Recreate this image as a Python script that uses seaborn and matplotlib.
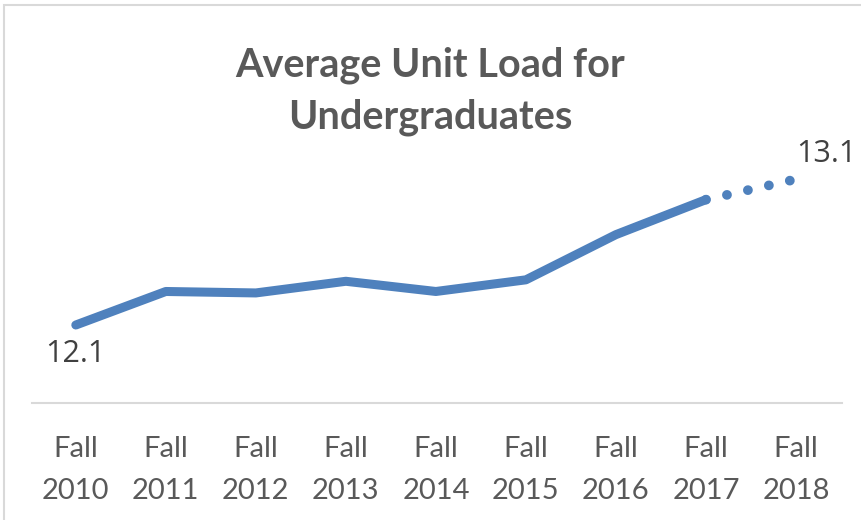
import seaborn as sns
import matplotlib.pyplot as plt
import matplotlib.patches as mpatches
import numpy as np
import pandas as pd

# Values
terms = ['Fall\n2010', 'Fall\n2011', 'Fall\n2012', 'Fall\n2013', 'Fall\n2014',
         'Fall\n2015', 'Fall\n2016', 'Fall\n2017', 'Fall\n2018']
unit_load = [12.1, 12.33, 12.32, 12.40, 12.33, 12.41, 12.72, 12.96, 13.1]
first_label = '12.1'
last_label = '13.1'

df = pd.DataFrame({'term': terms, 'load': unit_load})
df['pos'] = np.arange(len(df))
actual = df.iloc[:-1]       # solid part, up to Fall 2017
projected = df.iloc[-2:]    # dotted part, Fall 2017 -> Fall 2018

sns.set_style('white')
plt.rcParams['font.family'] = ['Lato', 'DejaVu Sans']

blue = '#4F81BD'
grey = '#595959'

fig = plt.figure(figsize=(8.61, 5.2), dpi=100)
ax = fig.add_axes([0.0368, 0.225, 0.941, 0.506])

sns.lineplot(x='pos', y='load', data=actual, ax=ax, color=blue, linewidth=6.5,
             solid_capstyle='round', solid_joinstyle='round')
sns.lineplot(x='pos', y='load', data=projected, ax=ax, color=blue, linewidth=7,
             linestyle=(0, (0.01, 2.2)), dash_capstyle='round')

ax.set_xlim(-0.49, 8.51)
ax.set_ylim(11.565, 13.37)
ax.set_xticks(df['pos'])
ax.set_xticklabels(df['term'], fontsize=21, color=grey, linespacing=1.8)
ax.tick_params(axis='x', length=0, pad=23.5)
ax.set_yticks([])
ax.set_xlabel('')
ax.set_ylabel('')
for s in ['top', 'right', 'left']:
    ax.spines[s].set_visible(False)
ax.spines['bottom'].set_color('#D9D9D9')
ax.spines['bottom'].set_linewidth(1.5)

# data labels at the ends
ax.annotate(first_label, (df['pos'].iloc[0], df['load'].iloc[0]), xytext=(0, -21),
            textcoords='offset points', ha='center', va='center',
            fontsize=22, color='#404040', family=['Open Sans', 'DejaVu Sans'])
ax.annotate(last_label, (df['pos'].iloc[-1], df['load'].iloc[-1]), xytext=(0, 18),
            textcoords='offset points', ha='left', va='center',
            fontsize=22, color='#404040', family=['Open Sans', 'DejaVu Sans'],
            annotation_clip=False)

fig.text(0.4995, 1 - 65 / 520, 'Average Unit Load for', ha='center', va='center',
         fontsize=28.5, fontweight='bold', color=grey)
fig.text(0.4995, 1 - 117 / 520, 'Undergraduates', ha='center', va='center',
         fontsize=28.5, fontweight='bold', color=grey)

# light chart-area border
fig.patches.append(mpatches.Rectangle((4 / 861, -0.1), 1.1, 1 - 5 / 520 + 0.1,
                                      transform=fig.transFigure, fill=False,
                                      edgecolor='#D9D9D9', linewidth=1.5))

fig.savefig('out.png', dpi=100)
